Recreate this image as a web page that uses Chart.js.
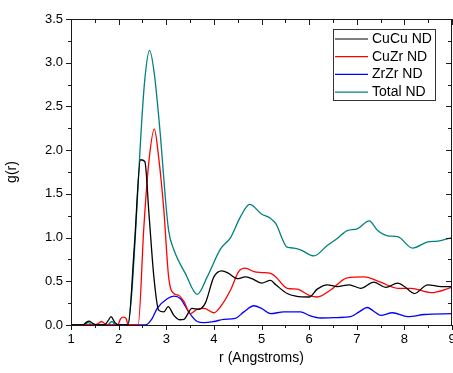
<!DOCTYPE html>
<html>
<head>
<meta charset="utf-8">
<script src="https://cdn.jsdelivr.net/npm/chart.js@4/dist/chart.umd.min.js"></script>
<style>
  html, body { margin: 0; padding: 0; background: #fff; }
  #wrap { width: 453px; height: 373px; }
</style>
</head>
<body>
<div id="wrap"><canvas id="gChart" width="453" height="373"></canvas></div>
<script>
// g(r) curves
const cucuR = [1.0, 1.25, 1.32, 1.38, 1.45, 1.55, 1.7, 1.78, 1.84, 1.92, 2.0, 2.2, 2.33, 2.46, 2.55, 2.64, 2.74, 2.84, 2.95, 3.04, 3.16, 3.28, 3.37, 3.54, 3.68, 3.82, 4.0, 4.17, 4.31, 4.49, 4.66, 4.8, 5.0, 5.19, 5.3, 5.54, 5.72, 6.0, 6.17, 6.38, 6.59, 6.84, 7.08, 7.36, 7.61, 7.86, 8.0, 8.21, 8.49, 8.77, 9.0];
const cucuG = [0, 0, 0.03, 0.045, 0.02, 0, 0, 0.05, 0.095, 0.03, 0, 0, 0.9, 1.89, 1.87, 1.25, 0.55, 0.17, 0.15, 0.21, 0.11, 0.06, 0.065, 0.19, 0.18, 0.25, 0.55, 0.62, 0.59, 0.53, 0.55, 0.53, 0.48, 0.51, 0.46, 0.36, 0.33, 0.32, 0.41, 0.46, 0.44, 0.46, 0.42, 0.49, 0.43, 0.48, 0.44, 0.36, 0.46, 0.44, 0.44];

const cuzrR = [1.0, 1.5, 1.58, 1.64, 1.72, 1.8, 1.98, 2.04, 2.1, 2.16, 2.2, 2.41, 2.53, 2.63, 2.75, 2.84, 2.95, 3.05, 3.16, 3.26, 3.37, 3.51, 3.65, 3.79, 4.0, 4.14, 4.35, 4.52, 4.66, 4.84, 5.0, 5.19, 5.3, 5.54, 5.75, 6.0, 6.17, 6.45, 6.8, 7.15, 7.5, 7.86, 8.14, 8.56, 9.0];
const cuzrG = [0, 0, 0.02, 0.04, 0.01, 0, 0, 0.07, 0.09, 0.07, 0, 0, 1.12, 1.84, 2.24, 1.92, 1.31, 0.55, 0.36, 0.34, 0.27, 0.13, 0.18, 0.19, 0.14, 0.21, 0.40, 0.61, 0.65, 0.61, 0.60, 0.59, 0.55, 0.42, 0.41, 0.34, 0.32, 0.40, 0.54, 0.55, 0.49, 0.42, 0.42, 0.37, 0.43];

const zrzrR = [1.0, 2.56, 2.7, 2.81, 3.02, 3.16, 3.3, 3.47, 3.65, 3.79, 4.0, 4.21, 4.45, 4.63, 4.84, 5.0, 5.19, 5.47, 5.82, 6.0, 6.24, 6.6, 6.87, 7.05, 7.22, 7.35, 7.5, 7.75, 8.07, 8.42, 9.0];
const zrzrG = [0, 0, 0.07, 0.19, 0.30, 0.33, 0.30, 0.15, 0.04, 0.027, 0.04, 0.065, 0.076, 0.15, 0.22, 0.19, 0.13, 0.15, 0.15, 0.11, 0.08, 0.085, 0.095, 0.15, 0.20, 0.16, 0.11, 0.14, 0.095, 0.12, 0.13];

const totalR = [1.0, 1.28, 1.36, 1.44, 1.76, 1.86, 1.94, 2.18, 2.55, 2.65, 2.75, 2.88, 2.98, 3.05, 3.16, 3.4, 3.65, 3.86, 4.14, 4.35, 4.56, 4.75, 5.0, 5.19, 5.3, 5.54, 5.68, 5.82, 6.1, 6.38, 6.59, 6.8, 7.01, 7.26, 7.44, 7.65, 7.86, 8.17, 8.49, 8.7, 9.0];
const totalG = [0, 0, 0.03, 0, 0, 0.04, 0, 0, 2.81, 3.14, 2.87, 2.15, 1.46, 1.08, 0.86, 0.59, 0.35, 0.55, 0.87, 1.0, 1.24, 1.38, 1.27, 1.22, 1.16, 0.89, 0.88, 0.86, 0.79, 0.91, 0.99, 1.08, 1.10, 1.19, 1.08, 1.02, 1.01, 0.88, 0.95, 0.96, 1.0];

const seriesNames = ["CuCu ND", "CuZr ND", "ZrZr ND", "Total ND"];

function pts(rs, gs) {
  return rs.map((r, i) => ({ x: r, y: gs[i] }));
}

const FONT = "'Liberation Sans', Arial, sans-serif";

// Origin style frame: outward ticks bottom/left, inward ticks top/right
const framePlugin = {
  id: "frame",
  afterDraw(chart) {
    const { ctx, chartArea: a, scales } = chart;
    ctx.save();
    ctx.strokeStyle = "#1a1a1a";
    ctx.lineWidth = 1;
    ctx.strokeRect(Math.round(a.left) + 0.5, Math.round(a.top) + 0.5, Math.round(a.right - a.left) - 1, Math.round(a.bottom - a.top));
    ctx.beginPath();
    for (let v = 1; v <= 9.001; v += 0.5) {
      const px = Math.round(scales.x.getPixelForValue(v)) + 0.5;
      const len = Math.abs(v - Math.round(v)) < 0.01 ? 5 : 3;
      ctx.moveTo(px, a.bottom); ctx.lineTo(px, a.bottom + len);
      ctx.moveTo(px, a.top); ctx.lineTo(px, a.top + len + 1);
    }
    for (let v = 0; v <= 3.501; v += 0.25) {
      const py = Math.round(scales.y.getPixelForValue(v)) + 0.5;
      const len = Math.abs(v * 2 - Math.round(v * 2)) < 0.01 ? 5 : 3;
      ctx.moveTo(a.left, py); ctx.lineTo(a.left - len, py);
      ctx.moveTo(a.right, py); ctx.lineTo(a.right - len - 1, py);
    }
    ctx.stroke();

    // legend box inside the plot
    const bx = 333, by = 29, bw = 102, bh = 71;
    ctx.strokeStyle = "#333";
    ctx.strokeRect(bx + 0.5, by + 0.5, bw, bh);
    ctx.font = "14px " + FONT;
    ctx.textBaseline = "middle";
    ctx.fillStyle = "#000";
    chart.data.datasets.forEach((ds, i) => {
      const y = by + 10 + i * 17.7;
      ctx.strokeStyle = ds.borderColor;
      ctx.lineWidth = 1.2;
      ctx.beginPath();
      ctx.moveTo(bx + 2, y); ctx.lineTo(bx + 35, y);
      ctx.stroke();
      ctx.fillText(ds.label, bx + 39, y);
    });
    ctx.restore();
  }
};

const colors = ["#000000", "#ff0000", "#0000ff", "#008080"];
const allData = [pts(cucuR, cucuG), pts(cuzrR, cuzrG), pts(zrzrR, zrzrG), pts(totalR, totalG)];

const gChart = new Chart(document.getElementById("gChart").getContext("2d"), {
  type: "line",
  data: {
    datasets: seriesNames.map((name, i) => ({
      label: name,
      data: allData[i],
      borderColor: colors[i],
      borderWidth: 1.3,
      pointRadius: 0,
      fill: false,
      cubicInterpolationMode: "monotone",
    })),
  },
  options: {
    responsive: false,
    animation: false,
    layout: { padding: { top: 19, right: 1, left: 0, bottom: 0 } },
    plugins: {
      legend: { display: false },
      tooltip: { enabled: false },
    },
    scales: {
      x: {
        type: "linear",
        min: 1,
        max: 9,
        grid: { display: false, drawTicks: false },
        border: { display: false },
        ticks: {
          stepSize: 1,
          padding: 7,
          color: "#000",
          font: { family: FONT, size: 13 },
          maxRotation: 0,
        },
        title: {
          display: true,
          text: "r (Angstroms)",
          color: "#000",
          font: { family: FONT, size: 14 },
          padding: { top: 0, bottom: 6 },
        },
        afterFit(scale) {
          scale.height = 48;
          scale.paddingLeft = 0;
          scale.paddingRight = 0;
        },
      },
      y: {
        min: 0,
        max: 3.5,
        grid: { display: false, drawTicks: false },
        border: { display: false },
        ticks: {
          stepSize: 0.5,
          padding: 8,
          color: "#000",
          font: { family: FONT, size: 13 },
          callback: (v) => v.toFixed(1),
        },
        title: {
          display: true,
          text: "g(r)",
          color: "#000",
          font: { family: FONT, size: 14 },
          padding: { top: 4, bottom: 4 },
        },
        afterFit(scale) {
          scale.width = 71;
          scale.paddingTop = 0;
          scale.paddingBottom = 0;
        },
      },
    },
  },
  plugins: [framePlugin],
});
</script>
</body>
</html>
